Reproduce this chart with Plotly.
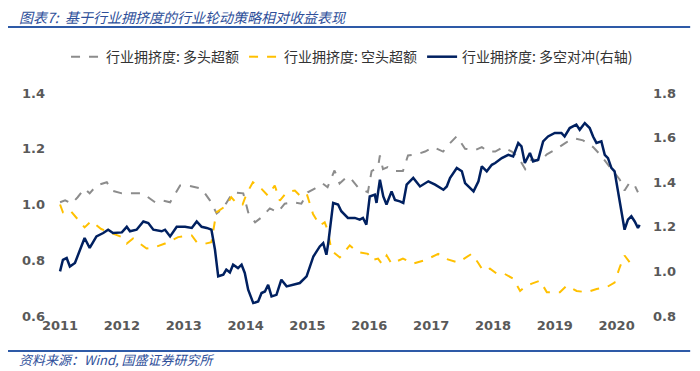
import plotly.graph_objects as go

# ---- data ----
long_dates = ["2011-01-01","2011-01-31","2011-03-10","2011-04-15","2011-05-26","2011-06-25","2011-08-04",
    "2011-10-04","2011-11-03","2012-01-01","2012-03-18","2012-05-04","2012-07-15","2012-08-23","2012-10-12",
    "2012-12-10","2013-01-27","2013-04-16","2013-06-05","2013-07-14","2013-08-20","2013-10-19","2013-12-18",
    "2014-01-16","2014-02-26","2014-04-05","2014-05-24","2014-07-10","2014-08-20","2014-10-06","2014-11-26",
    "2015-01-03","2015-02-13","2015-04-01","2015-04-30","2015-06-10","2015-07-10","2015-08-20","2015-09-08",
    "2015-10-26","2015-12-24","2016-01-15","2016-02-22","2016-03-04","2016-03-22","2016-04-20","2016-06-01",
    "2016-07-18","2016-08-17","2016-10-08","2016-11-26","2017-01-12","2017-03-12","2017-04-22","2017-06-01",
    "2017-07-20","2017-09-17","2017-10-27","2017-12-03","2018-01-14","2018-03-02","2018-04-22","2018-05-29",
    "2018-07-10","2018-08-18","2018-10-06","2018-11-15","2019-01-13","2019-03-12","2019-05-01","2019-06-17",
    "2019-08-15","2019-09-24","2019-11-02","2019-12-09","2020-01-19","2020-02-17","2020-03-19","2020-04-17",
    "2020-05-06"]
long_excess = [1.008,1.015,1.003,1.026,1.057,1.04,1.068,1.08,1.05,1.04,1.04,1.04,1.008,1.015,1.008,
    1.068,1.068,1.057,1.014,0.968,0.986,1.044,1.04,0.972,0.936,0.954,0.986,0.972,1.003,1.008,1.003,
    1.044,1.057,1.075,1.062,1.122,1.075,1.098,1.098,1.062,1.044,1.12,1.134,1.176,1.127,1.134,1.12,
    1.12,1.176,1.18,1.19,1.206,1.19,1.22,1.245,1.20,1.195,1.206,1.19,1.19,1.206,1.19,1.17,
    1.127,1.163,1.155,1.18,1.20,1.224,1.237,1.23,1.206,1.18,1.15,1.12,1.09,1.05,1.08,1.068,1.044]

short_dates = ["2011-01-01","2011-01-18","2011-02-28","2011-03-30","2011-05-26","2011-07-04","2011-09-01",
    "2011-10-21","2012-01-01","2012-01-30","2012-03-07","2012-05-26","2012-07-15","2012-09-12","2012-11-28",
    "2013-02-17","2013-03-18","2013-05-05","2013-06-13","2013-07-12","2013-09-09","2013-10-08","2013-11-15",
    "2013-12-14","2014-01-08","2014-02-13","2014-04-05","2014-05-12","2014-06-22","2014-07-22","2014-08-31",
    "2014-10-19","2014-11-17","2014-12-27","2015-02-03","2015-03-15","2015-04-13","2015-05-01","2015-05-23",
    "2015-07-11","2015-08-20","2015-09-08","2015-10-26","2015-12-24","2016-01-15","2016-02-22","2016-03-15",
    "2016-04-13","2016-05-12","2016-07-18","2016-09-16","2016-11-26","2017-02-11","2017-03-23","2017-06-08",
    "2017-08-28","2017-10-04","2017-11-03","2017-12-14","2018-01-23","2018-03-02","2018-04-30","2018-06-10",
    "2018-07-16","2018-08-18","2018-10-06","2018-11-15","2019-01-31","2019-03-12","2019-05-10","2019-07-08",
    "2019-09-05","2019-11-02","2019-12-20","2020-01-19","2020-02-17","2020-03-19","2020-05-06"]
short_excess = [1.0,0.972,0.98,0.96,0.918,0.94,0.912,0.90,0.883,0.86,0.878,0.842,0.847,0.86,0.883,
    0.889,0.865,0.859,0.865,0.972,0.996,1.026,1.0,1.0,1.04,1.08,1.056,1.032,1.068,1.014,1.044,
    1.05,1.032,1.04,0.966,0.925,0.936,0.907,0.835,0.81,0.84,0.853,0.829,0.823,0.80,0.806,0.788,
    0.817,0.788,0.806,0.788,0.80,0.823,0.806,0.792,0.823,0.792,0.763,0.77,0.752,0.754,0.734,0.69,
    0.709,0.716,0.727,0.685,0.685,0.709,0.69,0.685,0.697,0.703,0.72,0.774,0.817,0.792,0.80]

hedge_dates = ["2011-01-01","2011-01-18","2011-02-09","2011-02-28","2011-03-30","2011-04-28","2011-05-26",
    "2011-06-25","2011-08-04","2011-09-13","2011-10-12","2011-11-10","2012-01-01","2012-01-30","2012-02-18",
    "2012-03-28","2012-05-07","2012-06-05","2012-07-05","2012-08-23","2012-09-12","2012-10-12","2012-11-20",
    "2013-01-08","2013-02-17","2013-03-18","2013-04-16","2013-05-16","2013-06-13","2013-07-04","2013-07-23",
    "2013-08-22","2013-09-09","2013-09-30","2013-10-19","2013-11-17","2013-12-08","2013-12-27","2014-01-16",
    "2014-02-15","2014-03-16","2014-04-05","2014-04-25","2014-05-14","2014-06-03","2014-07-02","2014-07-31",
    "2014-08-31","2014-09-30","2014-11-17","2014-12-27","2015-02-05","2015-03-15","2015-04-04","2015-04-23",
    "2015-05-04","2015-06-02","2015-07-01","2015-07-20","2015-08-15","2015-08-28","2015-10-08","2015-11-06",
    "2015-11-25","2015-12-15","2016-01-04","2016-02-03","2016-02-13","2016-03-04","2016-03-24","2016-04-12",
    "2016-05-12","2016-06-01","2016-06-30","2016-07-20","2016-08-09","2016-09-17","2016-10-27","2016-12-15",
    "2017-01-24","2017-03-14","2017-04-03","2017-04-22","2017-06-01","2017-07-01","2017-07-20","2017-08-19",
    "2017-09-08","2017-10-07","2017-10-27","2017-11-25","2017-12-25","2018-01-14","2018-02-22","2018-04-01",
    "2018-04-30","2018-05-30","2018-06-18","2018-07-08","2018-08-07","2018-08-26","2018-09-25","2018-10-24",
    "2018-11-22","2019-01-01","2019-02-09","2019-02-28","2019-03-30","2019-05-08","2019-05-28","2019-06-27",
    "2019-07-26","2019-08-15","2019-09-04","2019-10-03","2019-10-23","2019-11-11","2019-12-01","2019-12-20",
    "2020-01-09","2020-01-29","2020-02-17","2020-03-08","2020-03-28","2020-04-17","2020-05-06","2020-05-16"]
hedge = [1.0,1.052,1.06,1.022,1.038,1.097,1.15,1.105,1.157,1.172,1.187,1.172,1.175,1.20,1.18,
    1.187,1.224,1.217,1.187,1.18,1.187,1.157,1.20,1.20,1.195,1.224,1.20,1.195,1.187,1.097,0.978,
    0.985,1.008,0.995,1.03,1.015,1.03,0.993,0.918,0.858,0.865,0.903,0.91,0.94,0.888,0.895,0.963,
    0.933,0.94,0.948,0.978,1.067,1.112,1.127,1.075,1.127,1.307,1.30,1.27,1.25,1.24,1.24,1.232,
    1.24,1.21,1.336,1.344,1.307,1.411,1.336,1.30,1.359,1.32,1.314,1.307,1.389,1.419,1.381,1.404,
    1.389,1.366,1.381,1.419,1.464,1.449,1.396,1.374,1.359,1.404,1.471,1.449,1.478,1.486,1.508,1.523,
    1.516,1.576,1.561,1.486,1.531,1.493,1.501,1.583,1.605,1.621,1.621,1.605,1.643,1.658,1.635,1.665,
    1.643,1.605,1.576,1.583,1.523,1.508,1.464,1.449,1.366,1.277,1.187,1.232,1.247,1.224,1.195,1.209]

left_ticks = [0.6, 0.8, 1.0, 1.2, 1.4]
right_ticks = [0.8, 1.0, 1.2, 1.4, 1.6, 1.8]
year_ticks = ["2011","2012","2013","2014","2015","2016","2017","2018","2019","2020"]

TITLE = "图表7:  基于行业拥挤度的行业轮动策略相对收益表现"
SOURCE = "资料来源：Wind, 国盛证券研究所"
names = ["行业拥挤度: 多头超额", "行业拥挤度: 空头超额", "行业拥挤度: 多空对冲(右轴)"]

fig = go.Figure()
fig.add_trace(go.Scatter(x=long_dates, y=long_excess, name=names[0], mode="lines",
                         line=dict(color="#8C8C8C", width=2, dash="dash")))
fig.add_trace(go.Scatter(x=short_dates, y=short_excess, name=names[1], mode="lines",
                         line=dict(color="#FFC000", width=2, dash="dash")))
fig.add_trace(go.Scatter(x=hedge_dates, y=hedge, name=names[2], mode="lines", yaxis="y2",
                         line=dict(color="#002060", width=2.5)))

tfont = dict(family="DejaVu Sans", size=13, color="#595959", weight="bold")
# the page has an 8px body margin; figure sized to fit the 700x371 window
fig.update_layout(
    width=692, height=363,
    margin=dict(l=38, r=48, t=85, b=55, autoexpand=False),
    paper_bgcolor="white", plot_bgcolor="white",
    font=dict(family="Noto Sans CJK SC"),
    showlegend=True,
    legend=dict(orientation="h", x=0.505, xanchor="center", y=1.161, yanchor="middle",
                font=dict(family="Noto Sans CJK SC", size=14, color="#333333"),
                bgcolor="rgba(0,0,0,0)", itemwidth=30, tracegroupgap=0),
    xaxis=dict(type="date", range=["2010-10-10", "2020-07-28"],
               tickvals=[y + "-01-01" for y in year_ticks], ticktext=year_ticks,
               showgrid=False, zeroline=False, showline=False, ticks="", tickfont=tfont),
    yaxis=dict(range=[0.6, 1.4], tickvals=left_ticks, ticktext=[f"{v:.1f}" for v in left_ticks],
               showgrid=False, zeroline=False, showline=False, ticks="", tickfont=tfont),
    yaxis2=dict(range=[0.8, 1.8], tickvals=right_ticks, ticktext=[f"{v:.1f}" for v in right_ticks],
                overlaying="y", side="right",
                showgrid=False, zeroline=False, showline=False, ticks="", tickfont=tfont),
    shapes=[
        dict(type="line", xref="paper", yref="paper", x0=-0.068, x1=1.063, y0=1.296, y1=1.296,
             line=dict(color="#2E5AA7", width=2)),
        dict(type="line", xref="paper", yref="paper", x0=-0.068, x1=1.063, y0=-0.157, y1=-0.157,
             line=dict(color="#2E5AA7", width=2)),
    ],
    annotations=[
        dict(text="<i>" + TITLE + "</i>", xref="paper", yref="paper", x=-0.048, y=1.343,
             xanchor="left", yanchor="middle", showarrow=False,
             font=dict(family="Noto Sans CJK SC", size=14, color="#2E4F9A")),
        dict(text="<i>" + SOURCE + "</i>", xref="paper", yref="paper", x=-0.048, y=-0.195,
             xanchor="left", yanchor="middle", showarrow=False,
             font=dict(family="Noto Sans CJK SC", size=13, color="#2E4F9A")),
    ],
)

fig.write_html("out.html")
